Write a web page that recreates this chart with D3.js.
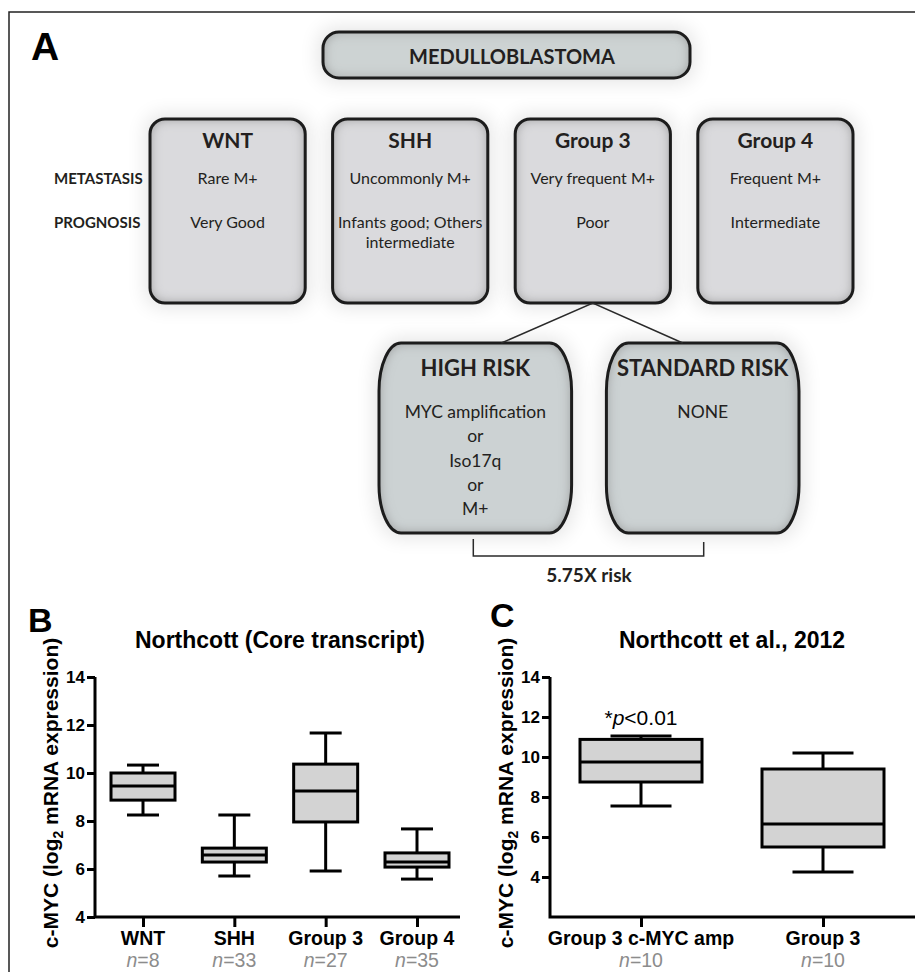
<!DOCTYPE html>
<html>
<head>
<meta charset="utf-8">
<script src="https://cdn.jsdelivr.net/npm/d3@7"></script>
<style>
  body { margin: 0; background: #fff; }
  svg { display: block; }
</style>
</head>
<body>
<div id="chart"></div>
<script>
// ---- panel A data ----
var subgroups = ["WNT", "SHH", "Group 3", "Group 4"];
var metastasis = ["Rare M+", "Uncommonly M+", "Very frequent M+", "Frequent M+"];
var prognosis = [["Very Good"], ["Infants good; Others", "intermediate"], ["Poor"], ["Intermediate"]];
var rowLabels = ["METASTASIS", "PROGNOSIS"];
var riskGroups = ["HIGH RISK", "STANDARD RISK"];
var riskFactors = [["MYC amplification", "or", "Iso17q", "or", "M+"], ["NONE"]];
var riskRatio = "5.75X risk";

// ---- panel B data (Northcott core transcript) ----
var groupsB = ["WNT", "SHH", "Group 3", "Group 4"];
var nB = [8, 33, 27, 35];
var minB = [8.25, 5.71, 5.92, 5.58];
var q1B = [8.87, 6.29, 7.96, 6.08];
var medB = [9.46, 6.58, 9.25, 6.29];
var q3B = [10.0, 6.87, 10.37, 6.67];
var maxB = [10.33, 8.25, 11.67, 7.67];

// ---- panel C data (Northcott et al., 2012) ----
var groupsC = ["Group 3 c-MYC amp", "Group 3"];
var nC = [10, 10];
var minC = [7.55, 4.25];
var q1C = [8.75, 5.5];
var medC = [9.75, 6.65];
var q3C = [10.88, 9.4];
var maxC = [11.05, 10.2];

var ticksY = [4, 6, 8, 10, 12, 14];

var fontA = "Lato, 'Open Sans', sans-serif";
var fontB = "'Liberation Sans', Arial, sans-serif";

var svg = d3.select("#chart").append("svg")
  .attr("width", 915)
  .attr("height", 972);

var defs = svg.append("defs");
defs.append("filter").attr("id", "glow")
  .attr("x", "-40%").attr("y", "-40%").attr("width", "180%").attr("height", "180%")
  .append("feGaussianBlur").attr("stdDeviation", 10);

var inner = defs.append("filter").attr("id", "inner");
inner.append("feFlood").attr("flood-color", "#8a8a8a").attr("result", "c");
inner.append("feComposite").attr("in", "c").attr("in2", "SourceAlpha").attr("operator", "out").attr("result", "inv");
inner.append("feGaussianBlur").attr("in", "inv").attr("stdDeviation", 6).attr("result", "b");
inner.append("feComposite").attr("in", "b").attr("in2", "SourceAlpha").attr("operator", "in").attr("result", "is");
var mg = inner.append("feMerge");
mg.append("feMergeNode").attr("in", "SourceGraphic");
mg.append("feMergeNode").attr("in", "is");

// frame (top + left edge)
svg.append("path")
  .attr("d", "M9,972V12H915")
  .attr("fill", "none")
  .attr("stroke", "#222")
  .attr("stroke-width", 1.5);

// ================= PANEL A =================
var gA = svg.append("g");
var glowLayer = gA.append("g");
var boxLayer = gA.append("g");

function card(x, y, w, h, rx, ry, fill) {
  glowLayer.append("rect")
    .attr("x", x - 4).attr("y", y - 4).attr("width", w + 8).attr("height", h + 8)
    .attr("rx", rx).attr("ry", ry)
    .attr("fill", "#000").attr("opacity", 0.11)
    .attr("filter", "url(#glow)");
  boxLayer.append("rect")
    .attr("x", x).attr("y", y).attr("width", w).attr("height", h)
    .attr("rx", rx).attr("ry", ry)
    .attr("fill", fill)
    .attr("filter", "url(#inner)");
  boxLayer.append("rect")
    .attr("x", x).attr("y", y).attr("width", w).attr("height", h)
    .attr("rx", rx).attr("ry", ry)
    .attr("fill", "none")
    .attr("stroke", "#1c1c1c")
    .attr("stroke-width", 3);
}

gA.append("text")
  .attr("x", 31).attr("y", 60)
  .attr("font-family", fontB).attr("font-weight", "bold").attr("font-size", 39)
  .text("A");

// top box
card(323, 32, 367, 46, 16, 16, "#cdd3d3");

// subgroup boxes
var xSub = d3.scaleBand().domain(subgroups).range([150, 853]).paddingInner(0.15);
var subTop = 119, subH = 184;
subgroups.forEach(function(s) { card(xSub(s), subTop, xSub.bandwidth(), subH, 15, 15, "#dadadd"); });

// risk boxes
var xRisk = d3.scaleBand().domain(riskGroups).range([379, 799]).paddingInner(0.153);
var riskTop = 343, riskH = 190;
riskGroups.forEach(function(r) { card(xRisk(r), riskTop, xRisk.bandwidth(), riskH, 22, 48, "#ccd2d3"); });

// connector lines from Group 3 to risk boxes
var g3c = xSub("Group 3") + xSub.bandwidth() / 2;
var hrC = xRisk("HIGH RISK") + xRisk.bandwidth() / 2;
var srC = xRisk("STANDARD RISK") + xRisk.bandwidth() / 2;
gA.append("path")
  .attr("d", "M" + (hrC + 26) + "," + riskTop + "L" + g3c + "," + (subTop + subH) + "L" + (srC - 20) + "," + riskTop)
  .attr("fill", "none").attr("stroke", "#2a2a2a").attr("stroke-width", 1.5);

// texts in panel A
var textA = gA.append("g").attr("font-family", fontA).attr("fill", "#231f20");

textA.append("text")
  .attr("x", 512).attr("y", 64)
  .attr("text-anchor", "middle").attr("font-weight", "bold").attr("font-size", 20)
  .text("MEDULLOBLASTOMA");

subgroups.forEach(function(s, i) {
  var cx = xSub(s) + xSub.bandwidth() / 2;
  textA.append("text")
    .attr("x", cx).attr("y", 148)
    .attr("text-anchor", "middle").attr("font-weight", "bold").attr("font-size", 21)
    .text(s);
  textA.append("text")
    .attr("x", cx).attr("y", 184)
    .attr("text-anchor", "middle").attr("font-size", 16)
    .text(metastasis[i]);
  prognosis[i].forEach(function(line, j) {
    textA.append("text")
      .attr("x", cx).attr("y", 228 + j * 20)
      .attr("text-anchor", "middle").attr("font-size", 16)
      .text(line);
  });
});

rowLabels.forEach(function(l, i) {
  textA.append("text")
    .attr("x", 54).attr("y", 184 + i * 44)
    .attr("font-weight", "bold").attr("font-size", 15)
    .text(l);
});

riskGroups.forEach(function(r, i) {
  var cx = xRisk(r) + xRisk.bandwidth() / 2;
  textA.append("text")
    .attr("x", cx).attr("y", 376)
    .attr("text-anchor", "middle").attr("font-weight", "bold").attr("font-size", 22)
    .text(r);
  riskFactors[i].forEach(function(line, j) {
    textA.append("text")
      .attr("x", cx).attr("y", 418 + j * 24.3)
      .attr("text-anchor", "middle").attr("font-size", 17.5)
      .text(line);
  });
});

// bracket
gA.append("path")
  .attr("d", "M" + (hrC - 2) + ",539V556H" + (srC + 1) + "V542")
  .attr("fill", "none").attr("stroke", "#2a2a2a").attr("stroke-width", 1.5);
textA.append("text")
  .attr("x", (hrC + srC) / 2).attr("y", 582)
  .attr("text-anchor", "middle").attr("font-weight", "bold").attr("font-size", 19)
  .text(riskRatio);

// ================= PANELS B & C =================
function boxPanel(o) {
  var g = svg.append("g").attr("font-family", fontB);
  var y = d3.scaleLinear().domain(o.yDomain).range([917, 677]);
  var x = d3.scalePoint().domain(o.groups).range(o.xRange);

  g.append("text")
    .attr("x", o.letterX).attr("y", o.letterY)
    .attr("font-weight", "bold").attr("font-size", 34)
    .text(o.letter);
  g.append("text")
    .attr("x", o.titleX).attr("y", 648)
    .attr("text-anchor", "middle").attr("font-weight", "bold").attr("font-size", 23)
    .text(o.title);

  // y label
  var yl = g.append("text")
    .attr("transform", "translate(" + o.ylabX + "," + 793 + ") rotate(-90)")
    .attr("text-anchor", "middle").attr("font-weight", "bold").attr("font-size", 21);
  yl.append("tspan").text("c-MYC (log");
  yl.append("tspan").attr("font-size", 14).attr("dy", 5).text("2");
  yl.append("tspan").attr("dy", -5).text(" mRNA expression)");

  // axes lines
  g.append("path")
    .attr("d", "M" + o.axisX + "," + y.range()[1] + "V917H" + o.axisEnd)
    .attr("fill", "none").attr("stroke", "#000").attr("stroke-width", 3)
    .attr("stroke-linejoin", "miter");

  var ay = g.append("g")
    .attr("transform", "translate(" + o.axisX + ",0)")
    .call(d3.axisLeft(y).tickValues(ticksY).tickSize(8).tickPadding(2).tickFormat(d3.format("d")));
  ay.select(".domain").remove();
  ay.selectAll("line").attr("stroke", "#000").attr("stroke-width", 3);
  ay.selectAll("text").attr("font-family", fontB).attr("font-weight", "bold").attr("font-size", 17).attr("fill", "#000");

  var ax = g.append("g")
    .attr("transform", "translate(0,917)")
    .call(d3.axisBottom(x).tickSize(10).tickPadding(4).tickFormat(""));
  ax.select(".domain").remove();
  ax.selectAll("line").attr("stroke", "#000").attr("stroke-width", 3);

  o.groups.forEach(function(grp, i) {
    var cx = x(grp);
    g.append("text")
      .attr("x", cx).attr("y", 945)
      .attr("text-anchor", "middle").attr("font-weight", "bold").attr("font-size", 19.5)
      .text(grp);
    var nt = g.append("text")
      .attr("x", cx).attr("y", 967)
      .attr("text-anchor", "middle").attr("font-size", 19.5).attr("fill", "#8c8c8c");
    nt.append("tspan").attr("font-style", "italic").text("n");
    nt.append("tspan").text("=" + o.n[i]);
  });

  var bw = o.boxW;
  var boxes = g.selectAll(".bx").data(o.groups).enter().append("g").attr("class", "bx");
  // whiskers
  boxes.append("line")
    .attr("x1", function(d) { return x(d); }).attr("x2", function(d) { return x(d); })
    .attr("y1", function(d, i) { return y(o.max[i]); })
    .attr("y2", function(d, i) { return y(o.min[i]); })
    .attr("stroke", "#000").attr("stroke-width", 3);
  ["max", "min"].forEach(function(k) {
    boxes.append("line")
      .attr("x1", function(d) { return x(d) - bw / 4; })
      .attr("x2", function(d) { return x(d) + bw / 4; })
      .attr("y1", function(d, i) { return y(o[k][i]); })
      .attr("y2", function(d, i) { return y(o[k][i]); })
      .attr("stroke", "#000").attr("stroke-width", 3);
  });
  boxes.append("rect")
    .attr("x", function(d) { return x(d) - bw / 2; })
    .attr("y", function(d, i) { return y(o.q3[i]); })
    .attr("width", bw)
    .attr("height", function(d, i) { return y(o.q1[i]) - y(o.q3[i]); })
    .attr("fill", "#d3d3d3").attr("stroke", "#000").attr("stroke-width", 3);
  boxes.append("line")
    .attr("x1", function(d) { return x(d) - bw / 2; })
    .attr("x2", function(d) { return x(d) + bw / 2; })
    .attr("y1", function(d, i) { return y(o.med[i]); })
    .attr("y2", function(d, i) { return y(o.med[i]); })
    .attr("stroke", "#000").attr("stroke-width", 3);

  return { g: g, x: x, y: y };
}

boxPanel({
  letter: "B", letterX: 28, letterY: 632,
  title: "Northcott (Core transcript)", titleX: 280,
  groups: groupsB, n: nB, min: minB, q1: q1B, med: medB, q3: q3B, max: maxB,
  yDomain: [4, 14], xRange: [143, 417], axisX: 95, axisEnd: 460, ylabX: 58, boxW: 64
});

var pc = boxPanel({
  letter: "C", letterX: 490, letterY: 627,
  title: "Northcott et al., 2012", titleX: 732,
  groups: groupsC, n: nC, min: minC, q1: q1C, med: medC, q3: q3C, max: maxC,
  yDomain: [2, 14], xRange: [641, 823], axisX: 550, axisEnd: 915, ylabX: 513, boxW: 122
});

var pt = pc.g.append("text")
  .attr("x", pc.x(groupsC[0])).attr("y", 725)
  .attr("text-anchor", "middle").attr("font-size", 21);
pt.append("tspan").text("*");
pt.append("tspan").attr("font-style", "italic").text("p");
pt.append("tspan").text("<0.01");
</script>
</body>
</html>
